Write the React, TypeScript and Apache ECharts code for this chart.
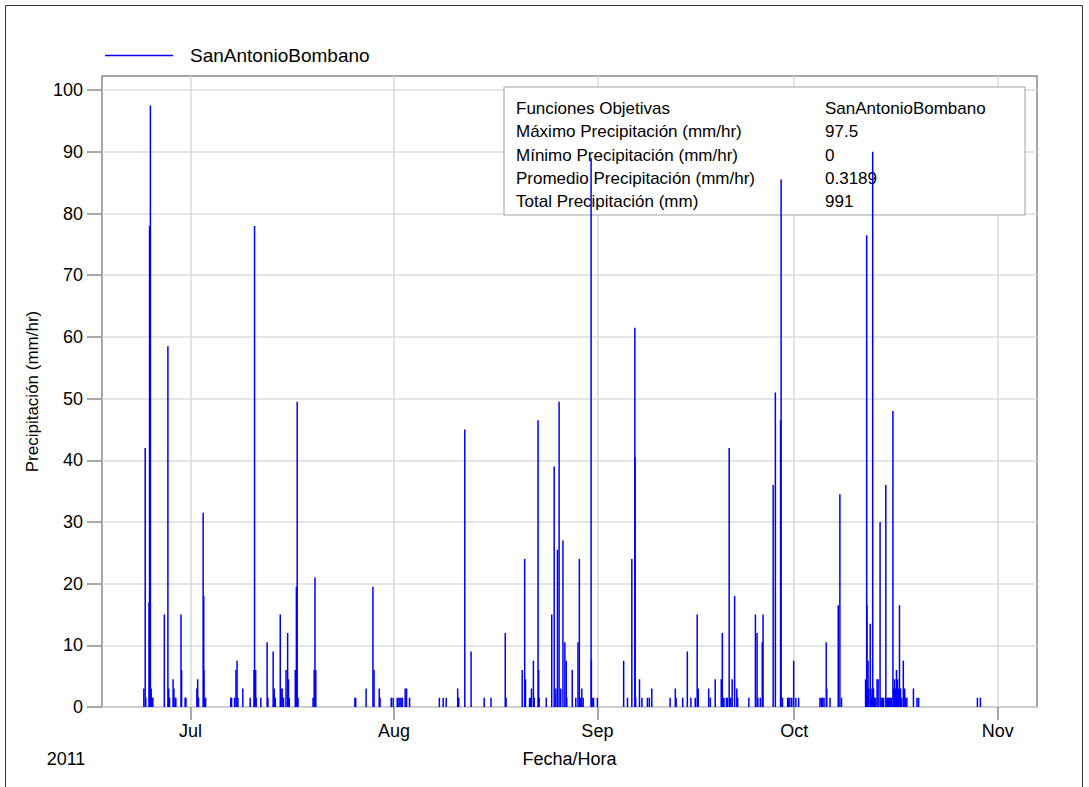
import React, { useEffect, useRef } from "react";
import * as echarts from "echarts";

const FONT = "'Liberation Sans', Arial, Helvetica, sans-serif";

const seriesName = "SanAntonioBombano";

const juneRain: [string, number][] = [
  ["2011-06-23 21:00", 3], ["2011-06-24 02:00", 42], ["2011-06-24 04:00", 1.5],
  ["2011-06-24 16:00", 17], ["2011-06-24 18:00", 78], ["2011-06-24 19:00", 78],
  ["2011-06-24 21:00", 97.5], ["2011-06-25 00:00", 3], ["2011-06-25 03:00", 1.5],
  ["2011-06-25 06:00", 1.5], ["2011-06-27 00:00", 15], ["2011-06-27 13:00", 58.5],
  ["2011-06-27 16:00", 3], ["2011-06-27 19:00", 1.5], ["2011-06-28 08:00", 4.5],
  ["2011-06-28 11:00", 3], ["2011-06-28 15:00", 1.5], ["2011-06-28 18:00", 1.5],
  ["2011-06-29 13:00", 15], ["2011-06-29 15:00", 6], ["2011-06-30 04:00", 1.5],
  ["2011-06-30 07:00", 1.5],
];

const julyRain: [string, number][] = [
  ["2011-07-01 23:00", 3], ["2011-07-02 02:00", 4.5], ["2011-07-02 05:00", 1.5],
  ["2011-07-02 22:00", 31.5], ["2011-07-03 00:00", 18], ["2011-07-03 01:00", 6],
  ["2011-07-03 03:00", 1.5], ["2011-07-03 07:00", 1.5], ["2011-07-07 03:00", 1.5],
  ["2011-07-07 06:00", 1.5], ["2011-07-07 17:00", 1.5], ["2011-07-07 22:00", 6],
  ["2011-07-08 02:00", 7.5], ["2011-07-08 05:00", 1.5], ["2011-07-08 23:00", 3],
  ["2011-07-10 02:00", 1.5], ["2011-07-10 16:00", 6], ["2011-07-10 18:00", 78],
  ["2011-07-10 22:00", 6], ["2011-07-11 00:00", 1.5], ["2011-07-11 17:00", 1.5],
  ["2011-07-12 16:00", 10.5], ["2011-07-12 19:00", 1.5], ["2011-07-13 14:00", 9],
  ["2011-07-13 18:00", 3], ["2011-07-13 22:00", 1.5], ["2011-07-14 16:00", 15],
  ["2011-07-14 19:00", 3], ["2011-07-14 23:00", 3], ["2011-07-15 04:00", 1.5],
  ["2011-07-15 13:00", 6], ["2011-07-15 19:00", 12], ["2011-07-15 22:00", 4.5],
  ["2011-07-16 01:00", 1.5], ["2011-07-16 23:00", 6], ["2011-07-17 03:00", 19.5],
  ["2011-07-17 06:00", 49.5], ["2011-07-17 09:00", 1.5], ["2011-07-19 16:00", 1.5],
  ["2011-07-19 20:00", 6], ["2011-07-19 23:00", 21], ["2011-07-20 02:00", 6],
  ["2011-07-26 01:00", 1.5], ["2011-07-26 04:00", 1.5], ["2011-07-27 18:00", 3],
  ["2011-07-28 19:00", 19.5], ["2011-07-28 23:00", 6], ["2011-07-29 18:00", 3],
  ["2011-07-29 21:00", 1.5], ["2011-07-31 14:00", 1.5], ["2011-07-31 21:00", 1.5],
];

const augustRain: [string, number][] = [
  ["2011-08-01 12:00", 1.5], ["2011-08-01 18:00", 1.5], ["2011-08-01 22:00", 1.5],
  ["2011-08-02 02:00", 1.5], ["2011-08-02 07:00", 1.5], ["2011-08-02 17:00", 3],
  ["2011-08-02 22:00", 3], ["2011-08-03 09:00", 1.5], ["2011-08-07 22:00", 1.5],
  ["2011-08-08 12:00", 1.5], ["2011-08-08 23:00", 1.5], ["2011-08-10 17:00", 3],
  ["2011-08-10 21:00", 1.5], ["2011-08-11 19:00", 45], ["2011-08-12 18:00", 9],
  ["2011-08-14 18:00", 1.5], ["2011-08-15 19:00", 1.5], ["2011-08-17 23:00", 12],
  ["2011-08-18 02:00", 1.5], ["2011-08-20 13:00", 6], ["2011-08-20 22:00", 24],
  ["2011-08-21 01:00", 4.5], ["2011-08-21 16:00", 1.5], ["2011-08-21 19:00", 1.5],
  ["2011-08-21 23:00", 3], ["2011-08-22 06:00", 7.5], ["2011-08-22 09:00", 1.5],
  ["2011-08-22 23:00", 46.5], ["2011-08-23 01:00", 6], ["2011-08-23 03:00", 1.5],
  ["2011-08-24 05:00", 1.5], ["2011-08-25 01:00", 15], ["2011-08-25 10:00", 39],
  ["2011-08-25 13:00", 1.5], ["2011-08-25 16:00", 3], ["2011-08-25 22:00", 25.5],
  ["2011-08-26 04:00", 49.5], ["2011-08-26 10:00", 3], ["2011-08-26 18:00", 27],
  ["2011-08-27 01:00", 10.5], ["2011-08-27 06:00", 7.5], ["2011-08-27 08:00", 1.5],
  ["2011-08-28 04:00", 6], ["2011-08-28 17:00", 1.5], ["2011-08-29 01:00", 10.5],
  ["2011-08-29 06:00", 24], ["2011-08-29 10:00", 1.5], ["2011-08-29 15:00", 3],
  ["2011-08-29 20:00", 1.5], ["2011-08-31 01:00", 89], ["2011-08-31 02:00", 7.5],
  ["2011-08-31 05:00", 1.5], ["2011-08-31 10:00", 1.5],
];

const septemberRain: [string, number][] = [
  ["2011-09-01 00:00", 1.5], ["2011-09-05 00:00", 7.5], ["2011-09-05 14:00", 1.5],
  ["2011-09-06 06:00", 24], ["2011-09-06 17:00", 61.5], ["2011-09-06 18:00", 40.5],
  ["2011-09-06 20:00", 1.5], ["2011-09-07 10:00", 4.5], ["2011-09-07 19:00", 1.5],
  ["2011-09-08 15:00", 1.5], ["2011-09-08 22:00", 1.5], ["2011-09-09 07:00", 3],
  ["2011-09-12 02:00", 1.5], ["2011-09-12 21:00", 3], ["2011-09-13 00:00", 1.5],
  ["2011-09-14 00:00", 1.5], ["2011-09-14 17:00", 9], ["2011-09-15 06:00", 1.5],
  ["2011-09-15 22:00", 1.5], ["2011-09-16 05:00", 15], ["2011-09-16 09:00", 3],
  ["2011-09-17 23:00", 3], ["2011-09-18 05:00", 1.5], ["2011-09-18 23:00", 4.5],
  ["2011-09-19 21:00", 4.5], ["2011-09-20 01:00", 12], ["2011-09-20 04:00", 1.5],
  ["2011-09-20 07:00", 1.5], ["2011-09-20 16:00", 1.5], ["2011-09-20 19:00", 1.5],
  ["2011-09-21 02:00", 42], ["2011-09-21 05:00", 1.5], ["2011-09-21 08:00", 1.5],
  ["2011-09-21 13:00", 4.5], ["2011-09-21 22:00", 18], ["2011-09-22 06:00", 3],
  ["2011-09-22 09:00", 1.5], ["2011-09-24 02:00", 1.5], ["2011-09-25 02:00", 15],
  ["2011-09-25 08:00", 12], ["2011-09-25 11:00", 1.5], ["2011-09-25 20:00", 1.5],
  ["2011-09-26 03:00", 10.5], ["2011-09-26 06:00", 15], ["2011-09-27 19:00", 36],
  ["2011-09-28 03:00", 51], ["2011-09-28 22:00", 46.5], ["2011-09-29 00:00", 85.5],
  ["2011-09-29 05:00", 1.5], ["2011-09-30 00:00", 1.5], ["2011-09-30 03:00", 1.5],
  ["2011-09-30 08:00", 1.5], ["2011-09-30 15:00", 1.5], ["2011-09-30 22:00", 7.5],
];

const octoberRain: [string, number][] = [
  ["2011-10-01 06:00", 1.5], ["2011-10-01 16:00", 1.5], ["2011-10-04 22:00", 1.5],
  ["2011-10-05 03:00", 1.5], ["2011-10-05 08:00", 1.5], ["2011-10-05 13:00", 1.5],
  ["2011-10-05 21:00", 10.5], ["2011-10-05 23:00", 3], ["2011-10-06 11:00", 1.5],
  ["2011-10-07 17:00", 16.5], ["2011-10-07 23:00", 34.5], ["2011-10-08 05:00", 1.5],
  ["2011-10-11 21:00", 4.5], ["2011-10-11 23:00", 1.5], ["2011-10-12 01:00", 76.5],
  ["2011-10-12 02:00", 16.5], ["2011-10-12 04:00", 3], ["2011-10-12 06:00", 7.5],
  ["2011-10-12 09:00", 3], ["2011-10-12 14:00", 13.5], ["2011-10-12 17:00", 3],
  ["2011-10-12 20:00", 1.5], ["2011-10-12 23:00", 90], ["2011-10-13 02:00", 3],
  ["2011-10-13 06:00", 1.5], ["2011-10-13 10:00", 1.5], ["2011-10-13 15:00", 4.5],
  ["2011-10-13 19:00", 4.5], ["2011-10-14 02:00", 30], ["2011-10-14 06:00", 1.5],
  ["2011-10-14 10:00", 1.5], ["2011-10-14 15:00", 1.5], ["2011-10-14 23:00", 36],
  ["2011-10-15 03:00", 1.5], ["2011-10-15 06:00", 1.5], ["2011-10-15 09:00", 1.5],
  ["2011-10-15 12:00", 1.5], ["2011-10-15 15:00", 1.5], ["2011-10-15 19:00", 1.5],
  ["2011-10-16 01:00", 48], ["2011-10-16 04:00", 3], ["2011-10-16 07:00", 4.5],
  ["2011-10-16 10:00", 3], ["2011-10-16 14:00", 6], ["2011-10-16 18:00", 4.5],
  ["2011-10-16 21:00", 3], ["2011-10-17 01:00", 16.5], ["2011-10-17 05:00", 3],
  ["2011-10-17 09:00", 1.5], ["2011-10-17 15:00", 7.5], ["2011-10-17 20:00", 3],
  ["2011-10-18 00:00", 1.5], ["2011-10-18 04:00", 1.5], ["2011-10-19 04:00", 3],
  ["2011-10-19 17:00", 1.5], ["2011-10-19 23:00", 1.5], ["2011-10-28 22:00", 1.5],
  ["2011-10-29 09:00", 1.5],
];

const yTicks = [0, 10, 20, 30, 40, 50, 60, 70, 80, 90, 100];
const monthTickDates = ["2011-07-01 00:00", "2011-08-01 00:00", "2011-09-01 00:00", "2011-10-01 00:00", "2011-11-01 00:00"];
const monthLabels = ["Jul", "Aug", "Sep", "Oct", "Nov"];
const axisStart = "2011-06-17 12:00";
const axisEnd = "2011-11-07 00:00";

const statLabels = [
  "Funciones Objetivas",
  "Máximo Precipitación (mm/hr)",
  "Mínimo Precipitación (mm/hr)",
  "Promedio Precipitación (mm/hr)",
  "Total Precipitación (mm)",
];
const statValues = ["SanAntonioBombano", "97.5", "0", "0.3189", "991"];

function toTime(s: string): number {
  const [d, t] = s.split(" ");
  const [y, m, day] = d.split("-").map(Number);
  const [hh, mm] = (t || "00:00").split(":").map(Number);
  return new Date(y, m - 1, day, hh, mm).getTime();
}

export default function App() {
  const ref = useRef<HTMLDivElement>(null);

  useEffect(() => {
    if (!ref.current) return;
    const chart = echarts.init(ref.current, null, { renderer: "svg" });

    const data = [...juneRain, ...julyRain, ...augustRain, ...septemberRain, ...octoberRain].map(
      ([t, v]) => [toTime(t), v]
    );
    const monthTicks = monthTickDates.map(toTime);

    const statGraphics: any[] = [];
    statLabels.forEach((label, i) => {
      const y = 108.5 + i * 23.3;
      statGraphics.push({
        type: "text",
        z: 1,
        silent: true,
        style: { text: label, x: 516, y, fill: "#000", font: `17px ${FONT}`, verticalAlign: "middle" },
      });
      statGraphics.push({
        type: "text",
        z: 1,
        silent: true,
        style: { text: statValues[i], x: 825, y, fill: "#000", font: `17px ${FONT}`, verticalAlign: "middle" },
      });
    });

    chart.setOption({
      animation: false,
      backgroundColor: "#ffffff",
      textStyle: { fontFamily: FONT },
      grid: {
        left: 102,
        right: 52,
        top: 76,
        bottom: 80,
        show: true,
        borderColor: "#8c8c8c",
        borderWidth: 1.5,
        backgroundColor: "transparent",
      },
      legend: {
        left: 105,
        top: 46,
        padding: 0,
        itemWidth: 68,
        itemHeight: 1.5,
        data: [{ name: seriesName, icon: "rect" }],
        textStyle: { fontSize: 19, color: "#000", fontFamily: FONT, padding: [0, 0, 0, 12] },
      },
      xAxis: {
        type: "value",
        min: toTime(axisStart),
        max: toTime(axisEnd),
        name: "Fecha/Hora",
        nameLocation: "middle",
        nameGap: 43,
        nameTextStyle: { fontSize: 18, color: "#000", fontFamily: FONT },
        axisLine: { show: false },
        axisTick: {
          show: true,
          length: 13,
          customValues: monthTicks,
          lineStyle: { color: "#8c8c8c", width: 1.5 },
        },
        axisLabel: {
          customValues: monthTicks,
          margin: 15,
          fontSize: 18,
          color: "#000",
          fontFamily: FONT,
          formatter: (v: number) => {
            const idx = monthTicks.indexOf(v);
            return idx >= 0 ? monthLabels[idx] : "";
          },
        },
        splitLine: { show: true, lineStyle: { color: "#d9d9d9", width: 1.5 } },
      },
      yAxis: {
        type: "value",
        min: 0,
        max: 102.3,
        name: "Precipitación (mm/hr)",
        nameLocation: "middle",
        nameGap: 61,
        nameTextStyle: { fontSize: 17, color: "#000", fontFamily: FONT },
        axisLine: { show: false },
        axisTick: {
          show: true,
          length: 15,
          customValues: yTicks,
          lineStyle: { color: "#8c8c8c", width: 1.5 },
        },
        axisLabel: {
          customValues: yTicks,
          margin: 19,
          fontSize: 18,
          color: "#000",
          fontFamily: FONT,
        },
        splitLine: { show: true, lineStyle: { color: "#dcdcdc", width: 1.5 } },
      },
      series: [
        {
          name: seriesName,
          type: "bar",
          data,
          barWidth: 1.5,
          itemStyle: { color: "#0000ff" },
          z: 2,
        },
      ],
      graphic: [
        {
          type: "rect",
          silent: true,
          z: 0,
          shape: { x: 5.5, y: 5.5, width: 1077, height: 800 },
          style: { fill: "none", stroke: "#333", lineWidth: 1 },
        },
        {
          type: "rect",
          silent: true,
          z: 1,
          shape: { x: 504, y: 87, width: 521, height: 128 },
          style: { fill: "#ffffff", stroke: "#a0a0a0", lineWidth: 1 },
        },
        ...statGraphics,
        {
          type: "text",
          silent: true,
          style: { text: "2011", x: 66, y: 759, fill: "#000", font: `18px ${FONT}`, align: "center", verticalAlign: "middle" },
        },
      ],
    });

    return () => chart.dispose();
  }, []);

  return <div ref={ref} style={{ position: "fixed", left: 0, top: 0, width: 1089, height: 787 }} />;
}
